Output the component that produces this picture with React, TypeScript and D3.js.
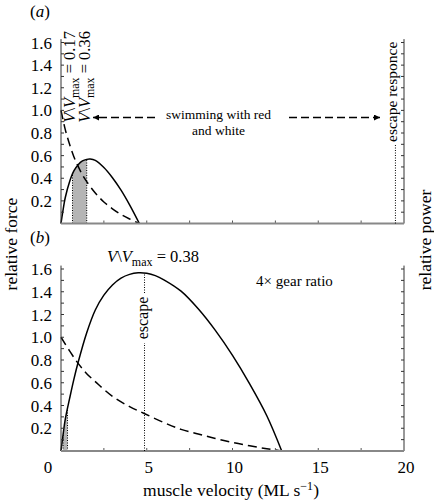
import React from 'react';
import * as d3 from 'd3';

// ---- data ----
const X_TICK_VALUES = [0, 5, 10, 15, 20];
const X_TICK_LABELS = ['0', '5', '10', '15', '20'];
const Y_TICK_VALUES = [0.2, 0.4, 0.6, 0.8, 1.0, 1.2, 1.4, 1.6];
const Y_TICK_LABELS = ['0.2', '0.4', '0.6', '0.8', '1.0', '1.2', '1.4', '1.6'];

// panel (a): normal gear
const forceVelA = [0, 0.25, 0.5, 0.75, 1, 1.25, 1.5, 2, 2.5, 3, 3.5, 4, 4.57];
const forceA = [1.0, 0.83, 0.7, 0.59, 0.505, 0.43, 0.37, 0.27, 0.19, 0.13, 0.08, 0.04, 0];
const powerVelA = [0, 0.1, 0.25, 0.5, 0.75, 1, 1.25, 1.5, 1.7, 2, 2.5, 3, 3.5, 4, 4.57];
const powerA = [0, 0.1, 0.23, 0.37, 0.465, 0.52, 0.553, 0.567, 0.57, 0.558, 0.495, 0.405, 0.295, 0.165, 0];
const swimRangeA = [0.67, 1.5];
const escapeVelA = 19.5;

// panel (b): 4x gear ratio
const forceVelB = [0, 0.5, 1, 1.5, 2, 3, 4, 4.85, 6, 7, 8, 9, 10, 11, 12, 12.87];
const forceB = [1.0, 0.88, 0.77, 0.68, 0.61, 0.48, 0.39, 0.33, 0.25, 0.19, 0.15, 0.11, 0.075, 0.046, 0.02, 0];
const powerVelB = [0, 0.1, 0.25, 0.5, 0.75, 1, 1.5, 2, 2.5, 3, 3.5, 4, 4.5, 5, 5.5, 6, 7, 8, 9, 10, 11, 12, 12.87];
const powerB = [0, 0.12, 0.28, 0.46, 0.63, 0.78, 1.04, 1.24, 1.37, 1.46, 1.52, 1.553, 1.566, 1.562, 1.542, 1.505, 1.405, 1.25, 1.06, 0.84, 0.59, 0.31, 0];
const swimRangeB = [0.12, 0.38];
const escapeVelB = 4.87;

const FONT = '"Liberation Serif", "Times New Roman", serif';
const x = d3.scaleLinear().domain([0, 20]).range([61, 404]);

type Pt = [number, number];
const zip = (a: number[], b: number[]): Pt[] => a.map((v, i) => [v, b[i]]);

function Frame({ y, id }: { y: d3.ScaleLinear<number, number>; id: string }) {
  const minor = d3.range(1, 17).map((i) => i / 10);
  const xt = d3.range(1, 8).map((i) => i * 2.5);
  return (
    <g>
      <line x1={x(0)} x2={x(0)} y1={y(0)} y2={y(1.63)} stroke="#333" strokeWidth={1} />
      <line x1={x(20)} x2={x(20)} y1={y(0)} y2={y(1.63)} stroke="#333" strokeWidth={1} />
      {minor.map((t) => (
        <g key={id + 'yt' + t}>
          <line x1={x(0)} x2={x(0) + 3} y1={y(t)} y2={y(t)} stroke="#333" strokeWidth={1} />
          <line x1={x(20)} x2={x(20) - 3} y1={y(t)} y2={y(t)} stroke="#333" strokeWidth={1} />
        </g>
      ))}
      {xt.map((t) => (
        <line key={id + 'xt' + t} x1={x(t)} x2={x(t)} y1={y(0)} y2={y(0) - 3} stroke="#555" strokeWidth={1} />
      ))}
      <line x1={x(0)} x2={x(20)} y1={y(0)} y2={y(0)} stroke="#888" strokeWidth={2} />
      {Y_TICK_VALUES.map((t, i) => (
        <text key={id + 'yl' + t} x={52} y={y(t) + 6} textAnchor="end" fontSize={17} fontFamily={FONT}>
          {Y_TICK_LABELS[i]}
        </text>
      ))}
    </g>
  );
}

function Curves({
  y, id, fx, fy, px, py, range,
}: {
  y: d3.ScaleLinear<number, number>; id: string; fx: number[]; fy: number[]; px: number[]; py: number[]; range: number[];
}) {
  const line = d3.line<Pt>().x((d) => x(d[0])).y((d) => y(d[1])).curve(d3.curveCatmullRom.alpha(0.5));
  const area = d3.area<Pt>().x((d) => x(d[0])).y0(y(0)).y1((d) => y(d[1])).curve(d3.curveCatmullRom.alpha(0.5));
  const pData = zip(px, py);
  const fData = zip(fx, fy);
  return (
    <g>
      <defs>
        <clipPath id={id + 'band'}>
          <rect x={x(range[0])} y={y(1.7)} width={x(range[1]) - x(range[0])} height={y(0) - y(1.7)} />
        </clipPath>
        <clipPath id={id + 'under'}>
          <path d={area(pData) || ''} />
        </clipPath>
      </defs>
      <path d={area(pData) || ''} fill="#b5b5b5" clipPath={`url(#${id}band)`} />
      <g clipPath={`url(#${id}under)`}>
        {range.map((v) => (
          <line key={id + 'r' + v} x1={x(v)} x2={x(v)} y1={y(0)} y2={y(1.7)} stroke="#000" strokeWidth={1} strokeDasharray="1,1.5" />
        ))}
      </g>
      <path d={line(pData) || ''} fill="none" stroke="#000" strokeWidth={1.5} />
      <path d={line(fData) || ''} fill="none" stroke="#000" strokeWidth={1.5} strokeDasharray="9,5" />
    </g>
  );
}

function VText({ tx, ty, value, anchor, size }: { tx: number; ty: number; value: string; anchor: string; size: number }) {
  return (
    <text transform={`translate(${tx},${ty}) rotate(-90)`} textAnchor={anchor} fontSize={size} fontFamily={FONT}>
      <tspan fontStyle="italic">V</tspan>
      <tspan>{'\\'}</tspan>
      <tspan fontStyle="italic">V</tspan>
      <tspan fontSize={size * 0.72} dy={4}>max</tspan>
      <tspan dy={-4}>{' = ' + value}</tspan>
    </text>
  );
}

export default function App() {
  const yA = d3.scaleLinear().domain([0, 1.6]).range([223.5, 42.5]);
  const yB = d3.scaleLinear().domain([0, 1.6]).range([451, 269]);
  const arrowY = 117.5;
  return (
    <svg width={434} height={504} style={{ position: 'absolute', left: 0, top: 0, background: '#fff' }}>
      <defs>
        <marker id="ah" viewBox="0 0 10 10" refX={10} refY={5} markerWidth={7} markerHeight={6} orient="auto-start-reverse" markerUnits="userSpaceOnUse">
          <path d="M0,0 L10,5 L0,10 z" fill="#000" />
        </marker>
      </defs>

      {/* panel (a) */}
      <text x={30} y={17} fontSize={17} fontFamily={FONT}>
        (<tspan fontStyle="italic">a</tspan>)
      </text>
      <Curves y={yA} id="a" fx={forceVelA} fy={forceA} px={powerVelA} py={powerA} range={swimRangeA} />
      <Frame y={yA} id="a" />
      <VText tx={75} ty={31} value="0.17" anchor="end" size={16.5} />
      <VText tx={90} ty={31} value="0.36" anchor="end" size={16.5} />
      <line x1={155} x2={93} y1={arrowY} y2={arrowY} stroke="#000" strokeWidth={1.5} strokeDasharray="8,4" markerEnd="url(#ah)" />
      <line x1={289} x2={380} y1={arrowY} y2={arrowY} stroke="#000" strokeWidth={1.5} strokeDasharray="8,4" markerEnd="url(#ah)" />
      <text x={218.5} y={119} textAnchor="middle" fontSize={13.5} fontFamily={FONT}>swimming with red</text>
      <text x={218.5} y={135} textAnchor="middle" fontSize={13.5} fontFamily={FONT}>and white</text>
      <line x1={x(escapeVelA)} x2={x(escapeVelA)} y1={yA(0)} y2={145} stroke="#000" strokeWidth={1} strokeDasharray="1,1.5" />
      <text transform={`translate(${x(escapeVelA) + 1.5},142) rotate(-90)`} textAnchor="start" fontSize={15.5} fontFamily={FONT}>
        escape responce
      </text>

      {/* panel (b) */}
      <text x={30} y={243} fontSize={17} fontFamily={FONT}>
        (<tspan fontStyle="italic">b</tspan>)
      </text>
      <Curves y={yB} id="b" fx={forceVelB} fy={forceB} px={powerVelB} py={powerB} range={swimRangeB} />
      <Frame y={yB} id="b" />
      <line x1={x(escapeVelB)} x2={x(escapeVelB)} y1={yB(0)} y2={343} stroke="#000" strokeWidth={1} strokeDasharray="1,1.5" />
      <line x1={x(escapeVelB)} x2={x(escapeVelB)} y1={293} y2={yB(1.565)} stroke="#000" strokeWidth={1} strokeDasharray="1,1.5" />
      <text transform={`translate(${x(escapeVelB) + 3},318) rotate(-90)`} textAnchor="middle" fontSize={16} fontFamily={FONT}>
        escape
      </text>
      <text x={153} y={262} textAnchor="middle" fontSize={16.5} fontFamily={FONT}>
        <tspan fontStyle="italic">V</tspan>
        <tspan>{'\\'}</tspan>
        <tspan fontStyle="italic">V</tspan>
        <tspan fontSize={12} dy={4}>max</tspan>
        <tspan dy={-4}>{' = 0.38'}</tspan>
      </text>
      <text x={294.5} y={286} textAnchor="middle" fontSize={15} fontFamily={FONT}>4× gear ratio</text>

      {/* x tick labels */}
      {X_TICK_VALUES.map((t, i) => (
        <text key={'xl' + t} x={t === 0 ? 48 : x(t) + 2} y={473} textAnchor="middle" fontSize={17} fontFamily={FONT}>
          {X_TICK_LABELS[i]}
        </text>
      ))}

      {/* axis titles */}
      <text x={231} y={496} textAnchor="middle" fontSize={17.5} fontFamily={FONT}>
        muscle velocity (ML s<tspan fontSize={12} dy={-6}>−1</tspan><tspan dy={6}>)</tspan>
      </text>
      <text transform="translate(17,244) rotate(-90)" textAnchor="middle" fontSize={17.5} fontFamily={FONT}>
        relative force
      </text>
      <text transform="translate(431,240) rotate(-90)" textAnchor="middle" fontSize={17.5} fontFamily={FONT}>
        relative power
      </text>
    </svg>
  );
}
